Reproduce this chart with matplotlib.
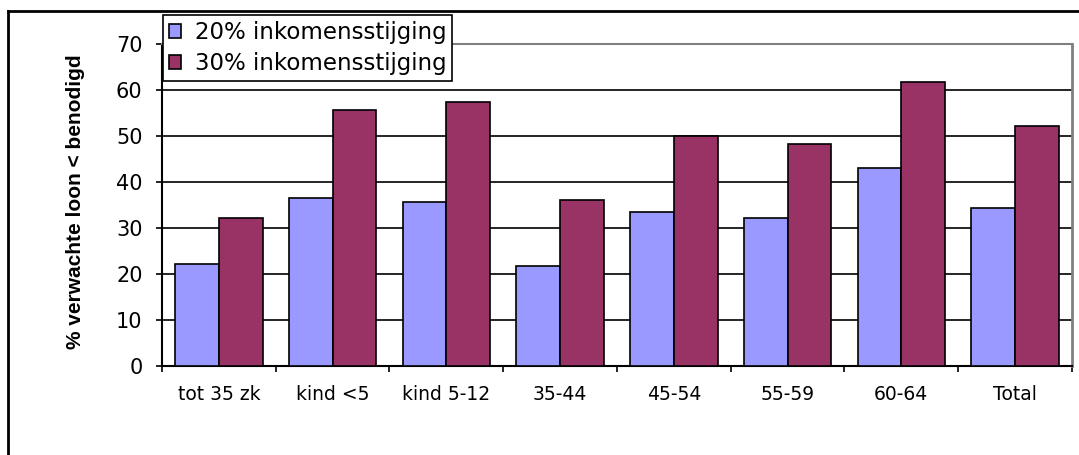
import numpy as np
import matplotlib
matplotlib.use("Agg")
import matplotlib.pyplot as plt
from matplotlib.lines import Line2D

CATEGORIES = ["tot 35 zk", "kind <5", "kind 5-12", "35-44", "45-54", "55-59", "60-64", "Total"]
SERIES_NAMES = ["20% inkomensstijging", "30% inkomensstijging"]
VALUES_20 = [22.2, 36.5, 35.6, 21.7, 33.4, 32.1, 43.0, 34.3]
VALUES_30 = [32.1, 55.7, 57.3, 36.0, 50.0, 48.2, 61.7, 52.1]
Y_TICKS = [0, 10, 20, 30, 40, 50, 60, 70]
Y_LABEL = "% verwachte loon < benodigd"

BLUE = "#9999FF"
PLUM = "#993366"


def main():
    fig = plt.figure(figsize=(10.79, 4.55), dpi=100)
    ax = fig.add_axes([0.1501, 0.1956, 0.8434, 0.7077])

    x = np.arange(len(CATEGORIES))
    width = 0.384

    ax.bar(x - width / 2, VALUES_20, width, color=BLUE, edgecolor="black",
           linewidth=1.2, label=SERIES_NAMES[0], zorder=3)
    ax.bar(x + width / 2, VALUES_30, width, color=PLUM, edgecolor="black",
           linewidth=1.2, label=SERIES_NAMES[1], zorder=3)

    ax.set_xlim(-0.5, len(CATEGORIES) - 0.5)
    ax.set_ylim(0, 70)
    ax.set_yticks(Y_TICKS)
    ax.yaxis.grid(True, color="black", linewidth=1.2, zorder=0)
    ax.set_axisbelow(True)

    # category labels in the middle, tick marks between groups
    ax.set_xticks(x)
    ax.set_xticklabels(CATEGORIES, fontsize=13.5)
    ax.set_xticks(np.arange(len(CATEGORIES) + 1) - 0.5, minor=True)
    ax.tick_params(axis="x", which="major", length=0, pad=14)
    ax.tick_params(axis="x", which="minor", length=4, width=1.2, direction="out")
    ax.tick_params(axis="y", length=4, width=1.2, direction="out", pad=10, labelsize=15)

    ax.spines["left"].set_color("black")
    ax.spines["left"].set_linewidth(1.5)
    ax.spines["bottom"].set_color("black")
    ax.spines["bottom"].set_linewidth(1.5)
    ax.spines["top"].set_color("#808080")
    ax.spines["top"].set_linewidth(1.5)
    ax.spines["right"].set_color("#808080")
    ax.spines["right"].set_linewidth(2.0)

    ax.set_ylabel(Y_LABEL, fontsize=15, fontweight="bold", family="Liberation Sans")
    ax.yaxis.set_label_coords(-0.085, 0.51)

    leg = fig.legend(loc="upper left", bbox_to_anchor=(0.151, 0.967),
                     fontsize=16.5, frameon=True, fancybox=False, framealpha=1,
                     edgecolor="black", handlelength=0.55, handleheight=0.55,
                     handletextpad=0.6, labelspacing=0.38, borderpad=0.25,
                     borderaxespad=0)
    leg.get_frame().set_linewidth(1.2)

    # outer frame of the original chart object
    fig.add_artist(Line2D([0.0074, 0.0074], [0, 0.9758], color="black",
                          linewidth=2, transform=fig.transFigure))
    fig.add_artist(Line2D([0.0074, 1], [0.9758, 0.9758], color="black",
                          linewidth=2, transform=fig.transFigure))

    fig.savefig("out.png", dpi=100)
    plt.close(fig)


if __name__ == "__main__":
    main()
